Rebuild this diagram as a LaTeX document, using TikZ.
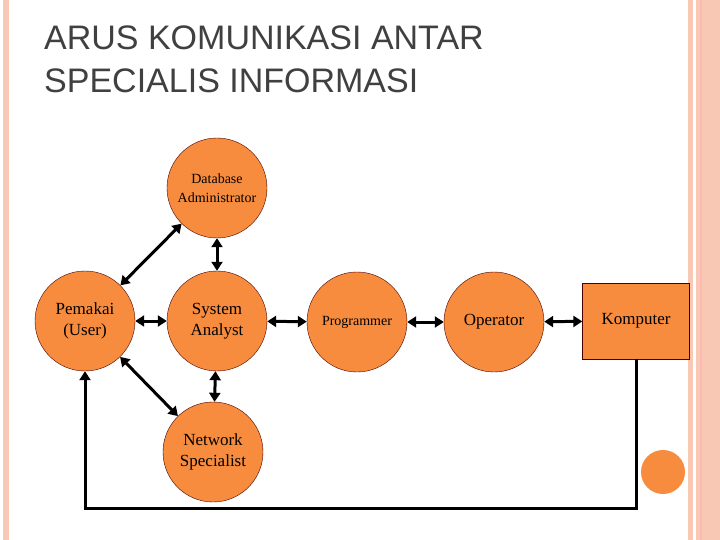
\documentclass[tikz,border=0pt]{standalone}
\usepackage{fontspec}
\setmainfont{Liberation Serif}
\newfontfamily\titlefont{Liberation Sans}
\usetikzlibrary{arrows.meta}
\definecolor{role}{RGB}{247,140,62}
\definecolor{stripe}{RGB}{248,200,180}
\begin{document}
\begin{tikzpicture}[x=1pt,y=-1pt,
    specialist/.style ={circle, draw=black!70!red, fill=role, minimum size=100pt, inner sep=0pt, align=center, font=\fontsize{17}{21}\selectfont},
    link/.style ={line width=3pt, {Triangle[length=9pt,width=11pt]}-{Triangle[length=9pt,width=11pt]}}]
   \useasboundingbox (0,0) rectangle (720,540);
   \fill[white] (0,0) rectangle (720,540);
   % slide decoration
   \fill[stripe] (3,0) rectangle (9,540);
   \fill[stripe] (688,0) rectangle (693,540);
   \fill[stripe] (696,0) rectangle (720,540);
   \fill[stripe!70!red!60] (700,0) rectangle (702,540);
   \fill[role] (663,472) circle (22);
   \node[anchor=north west, align=left, inner sep=0pt, text=black!75, font=\titlefont\fontsize{34}{43}\selectfont] (title) at (44,26) {ARUS KOMUNIKASI ANTAR\\SPECIALIS INFORMASI};

   \node[specialist] (U)  at (85,321)  {Pemakai\\(User)};
   \node[specialist] (SA) at (217,321) {System\\Analyst};
   \node[specialist, font=\fontsize{14}{19}\selectfont] (DBA) at (217,188) {Database\\Administrator};
   \node[specialist] (NS) at (213,452) {Network\\Specialist};
   \node[specialist, font=\fontsize{14}{17}\selectfont] (P)  at (357,322) {Programmer};
   \node[specialist] (O)  at (494,322) {Operator};
   \node[draw=black!70!red, fill=role, minimum width=107pt, minimum height=76pt, align=center, font=\fontsize{17}{21}\selectfont] (K) at (636,321) {Komputer};
   \coordinate (KB) at (636,508);
   \coordinate (UB) at (85,508);

   \draw[link] (U) to (DBA);
   \draw[link] (U) to (NS);
   \draw[link] (U) to (SA);
   \draw[link] (DBA) to (SA);
   \draw[link] (SA) to (NS);
   \draw[link] (SA) to (P);
   \draw[link] (P) to (O);
   \draw[link] (O) to (K);
   \draw[line width=3pt, -{Triangle[length=9pt,width=11pt]}] (K.south) -- (KB) -- (UB) -- (U.south);
 \end{tikzpicture}
\end{document}
